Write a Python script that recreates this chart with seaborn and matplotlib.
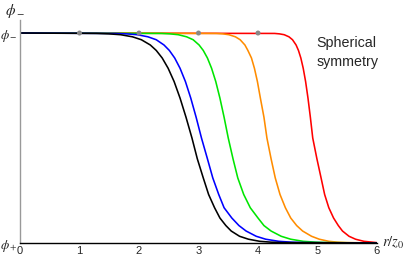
import numpy as np
import matplotlib
matplotlib.use("Agg")
import matplotlib.pyplot as plt
import pandas as pd
import seaborn as sns

sns.set_style("white")
plt.rcParams['font.family'] = ['Liberation Sans', 'DejaVu Sans']
plt.rcParams['mathtext.fontset'] = 'stix'

# field value (1 = phi-, 0 = phi+) at the points
levels = [1, 0.998, 0.996, 0.992, 0.982, 0.968, 0.943, 0.917, 0.881, 0.832, 0.769, 0.690, 0.599,
          0.5, 0.401, 0.310, 0.231, 0.168, 0.119, 0.083, 0.057, 0.032, 0.018, 0.008, 0.004, 0.002, 0]

# r/z0 where each curve passes those levels
r_black = [0, 1.29, 1.49, 1.69, 1.89, 2.04, 2.19, 2.29, 2.39, 2.49, 2.59, 2.69, 2.79,
           2.89, 2.98, 3.08, 3.17, 3.27, 3.36, 3.46, 3.55, 3.69, 3.84, 4.03, 4.22, 4.41, 6]
r_blue = [0, 1.61, 1.79, 1.97, 2.15, 2.29, 2.42, 2.51, 2.60, 2.69, 2.78, 2.87, 2.96,
          3.05, 3.15, 3.24, 3.34, 3.43, 3.56, 3.68, 3.80, 3.97, 4.13, 4.35, 4.56, 4.78, 6]
r_green = [0, 2.38, 2.52, 2.66, 2.80, 2.91, 3.01, 3.08, 3.15, 3.22, 3.29, 3.36, 3.43,
           3.50, 3.58, 3.66, 3.76, 3.87, 4.00, 4.10, 4.22, 4.39, 4.55, 4.76, 4.97, 5.18, 6]
r_orange = [0, 3.30, 3.41, 3.51, 3.62, 3.70, 3.78, 3.83, 3.89, 3.94, 3.99, 4.04, 4.10,
            4.15, 4.22, 4.29, 4.37, 4.46, 4.55, 4.65, 4.75, 4.90, 5.03, 5.19, 5.34, 5.50, 6]
r_red = [0, 4.28, 4.36, 4.44, 4.52, 4.58, 4.64, 4.68, 4.72, 4.76, 4.80, 4.84, 4.88,
         4.92, 4.99, 5.06, 5.12, 5.19, 5.27, 5.35, 5.42, 5.53, 5.64, 5.78, 5.92, 5.99, 6]

dots_r = [1, 2, 3, 4]
dots_v = [1, 1, 1, 1]

names = ['red', 'orange', 'green', 'blue', 'black']
colors = ['#ff0000', '#ff8c00', '#00e600', '#0000ff', '#000000']
rs = [r_red, r_orange, r_green, r_blue, r_black]

df = pd.concat([pd.DataFrame({'r': r, 'phi': levels, 'curve': n, 'order': range(len(r))})
                for r, n in zip(rs, names)], ignore_index=True)

fig = plt.figure(figsize=(4.10, 2.61), dpi=100)
ax = fig.add_axes([20/410, 18/261, 357/410, 223/261])

sns.lineplot(data=df, x='r', y='phi', hue='curve', hue_order=names, palette=colors,
             lw=1.15, sort=False, estimator=None, legend=False, ax=ax)

sns.scatterplot(x=dots_r, y=dots_v, color='#888888', s=13, edgecolor='none', zorder=5, ax=ax)

ax.set_xlim(0, 6)
ax.set_ylim(0, 1.062)
ax.set_xlabel('')
ax.set_ylabel('')

for s in ['top', 'right']:
    ax.spines[s].set_visible(False)
ax.spines['left'].set_color('#999999')
ax.spines['bottom'].set_color('black')
ax.spines['left'].set_linewidth(1.0)
ax.spines['bottom'].set_linewidth(1.0)

ax.set_xticks(range(7))
ax.set_xticks(np.arange(0, 6.01, 0.2), minor=True)
ax.tick_params(axis='x', which='major', direction='in', length=4, width=0.8, pad=2, labelsize=8)
ax.tick_params(axis='x', which='minor', direction='in', length=2, width=0.6)
ax.set_yticks([0, 1])
ax.set_yticklabels([r'$\phi_+$', r'$\phi_-$'], fontsize=9.5)
ax.tick_params(axis='y', direction='in', length=2, width=0.8, color='#999999', pad=2)

ax.text(1.015, 0.0, r'$r/z_0$', transform=ax.transAxes, fontsize=10.5, ha='left', va='center')
fig.text(15/410, 1 - 11/261, r'$\phi_-$', fontsize=11, ha='center', va='center')
ax.text(4.98, 0.985, 'Spherical\nsymmetry', fontsize=10.3, ha='left', va='top', linespacing=1.45)

fig.savefig('out.png', dpi=100)
